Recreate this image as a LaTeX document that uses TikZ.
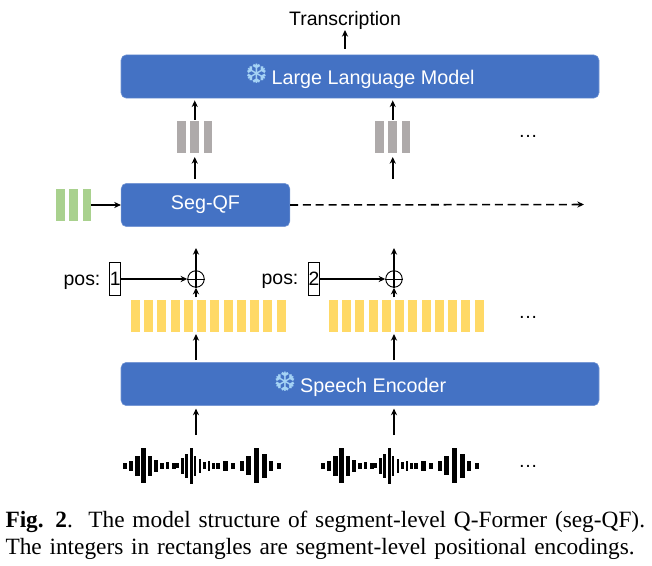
\documentclass[tikz,border=0pt]{standalone}
\usepackage{fontspec}
\setmainfont{Liberation Sans}
\newfontfamily\captionserif{Liberation Serif}
\newfontfamily\flakefont{DejaVu Sans}
\usetikzlibrary{arrows.meta}
\definecolor{modelblue}{HTML}{4472C4}
\definecolor{flakeblue}{HTML}{A5D3F5}
\definecolor{graybar}{HTML}{AEAAAA}
\definecolor{greenbar}{HTML}{A9D18E}
\definecolor{yellowbar}{HTML}{FFD966}
\newcommand{\flake}{\raisebox{0.6pt}{\textcolor{flakeblue}{\flakefont\fontsize{20}{20}\selectfont ❆}}\hspace{3pt}}

\tikzset{every picture/.style={line width=0.75pt}}
\tikzset{
  modelbox/.style={fill=modelblue,draw=modelblue!75!white,line width=0.4pt,rounded corners=4pt,text=white,minimum height=32.5pt,inner sep=0pt,font=\fontsize{14.8}{18}\selectfont},
  bar/.style={minimum width=6.7pt,inner sep=0pt,outer sep=0pt},
  graytoken/.style={bar,fill=graybar,minimum height=24pt},
  greentoken/.style={bar,fill=greenbar,minimum height=24pt},
  yellowtoken/.style={bar,fill=yellowbar,minimum height=24pt},
  posbox/.style={draw,line width=0.7pt,minimum width=8pt,minimum height=24.5pt,inner sep=0pt,font=\fontsize{14.5}{17}\selectfont},
  oplusnode/.style={draw,circle,line width=0.7pt,minimum size=12.4pt,inner sep=0pt},
  plaintext/.style={inner sep=0pt,font=\fontsize{14.6}{17}\selectfont},
  flow/.style={line width=1.15pt,-{Stealth[length=5pt,width=4.6pt]}},
}

\begin{document}
\begin{tikzpicture}[x=0.75pt,y=0.75pt,yscale=-1,xscale=1]
\useasboundingbox (0,0) rectangle (652,566);

% Model boxes
\node[modelbox,minimum width=358.5pt] (llm) at (360,76.5) {\flake Large Language Model};
\node[modelbox,minimum width=126.5pt] (segqf) at (205.5,205) {\raisebox{-1.5pt}{Seg-QF}};
\node[modelbox,minimum width=358.5pt] (speech) at (360,384) {\flake Speech Encoder};

% Token bars
\foreach \i in {0,1,2} {
  \node[graytoken] (grayA\i) at ({181.5+13.25*\i},137) {};
  \node[graytoken] (grayB\i) at ({379.5+13.25*\i},137) {};
  \node[greentoken] (green\i) at ({60.5+13.25*\i},205) {};
}
\foreach \i in {0,...,11} {
  \node[yellowtoken] (yellowA\i) at ({135.4+13.25*\i},316) {};
  \node[yellowtoken] (yellowB\i) at ({333.4+13.25*\i},316) {};
}

% Position inputs
\node[plaintext] (posA) at (82,282) {pos:};
\node[plaintext] (posB) at (280,281.5) {pos:};
\node[posbox] (numA) at (115.2,279) {\raisebox{-1.5pt}{1}};
\node[posbox] (numB) at (314,279) {\raisebox{-1.5pt}{2}};
\node[oplusnode] (oplusA) at (196,279) {};
\node[oplusnode] (oplusB) at (394,279) {};
\coordinate (outA) at (196,248);
\coordinate (outB) at (394,248);
\coordinate (waveA) at (196,435);
\coordinate (waveB) at (394,435);
\coordinate (dashEnd) at (584,204.5);
\coordinate (transOut) at (345,30);

% Waveforms
\foreach \sx in {0,198} {
  \foreach \px/\hh/\wd in {125/3/4,130.7/5/4,137.3/10/4.4,143.7/17.5/4.6,149.7/10/4,155.7/6/4,162.3/3/4,167.7/3.5/3.4,173.7/3/4,177.7/2.5/3.4,182.7/8/2.6,186.3/12/2.6,191.3/18/3.2,195/10/2.4,200/7/2.6,204.3/3.5/2.4,209/5/2,213.7/3/3.4,218.3/3/4,225.3/5/4.4,233.3/3/4,241.7/5/4.4,248.7/9.5/5,256.3/17.5/5,264/12/5,271/5/4.4,279.3/3/4} {
    \fill ({\px+\sx-\wd/2},{465.5-\hh}) rectangle ({\px+\sx+\wd/2},{465.5+\hh});
  }
}

% Connectors
\draw[flow] (llm.north -| transOut) ++(0,-6) -- (transOut);
\draw[flow,shorten >=1.5pt,shorten <=1pt] (grayA1.north) -- (llm.south -| grayA1);
\draw[flow,shorten >=1.5pt,shorten <=1pt] (grayB1.north) -- (llm.south -| grayB1);
\draw[flow,shorten >=3pt,shorten <=3pt] (segqf.north -| grayA1) -- (grayA1.south);
\draw[flow,shorten >=3pt,shorten <=3pt] (segqf.north -| grayB1) -- (grayB1.south);
\draw[flow] (green2.east) -- (segqf.west);
\draw[line width=1.15pt,dash pattern=on 6pt off 3.6pt,-{Stealth[length=5pt,width=4.6pt]}] (segqf.east) -- (dashEnd);
\draw[flow] (numA.east) -- (oplusA.west);
\draw[flow] (numB.east) -- (oplusB.west);
\draw[line width=0.7pt] (oplusA.west) -- (oplusA.east);
\draw[line width=0.7pt] (oplusB.west) -- (oplusB.east);
\draw[flow] (oplusA.south) -- (outA);
\draw[flow] (oplusB.south) -- (outB);
\draw[flow,shorten <=2pt] (yellowA0.north -| oplusA) -- (oplusA.south);
\draw[flow,shorten <=2pt] (yellowB0.north -| oplusB) -- (oplusB.south);
\draw[flow,shorten >=1.5pt,shorten <=1.5pt] (speech.north -| oplusA) -- (yellowA0.south -| oplusA);
\draw[flow,shorten >=1.5pt,shorten <=1.5pt] (speech.north -| oplusB) -- (yellowB0.south -| oplusB);
\draw[flow,shorten >=2pt] (waveA) -- (speech.south -| waveA);
\draw[flow,shorten >=2pt] (waveB) -- (speech.south -| waveB);

% Text Node
\node[plaintext] (trans) at (345,20) {Transcription};
\node[plaintext] (dotsGray) at (528,136) {…};
\node[plaintext] (dotsYellow) at (528,317) {…};
\node[plaintext] (dotsWave) at (528,466) {…};
\node[anchor=north west,inner sep=0pt,text width=486pt,align=left,font=\captionserif\fontsize{17.5}{20}\selectfont] (caption) at (5,511) {\makebox[485pt][s]{\textbf{Fig. 2}.\ \ The model structure of segment-level Q-Former (seg-QF).}\\The integers in rectangles are segment-level positional encodings.};
\end{tikzpicture}
\end{document}
